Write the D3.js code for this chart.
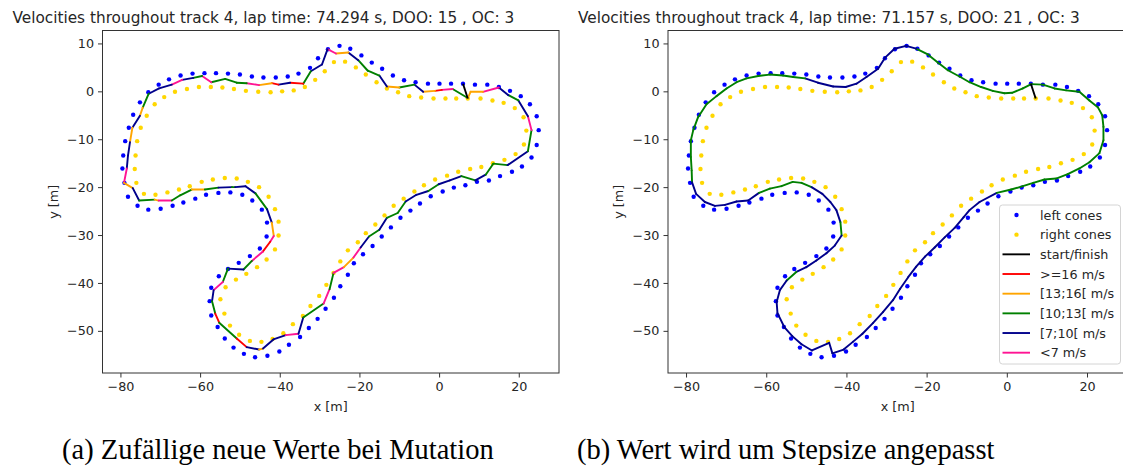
<!DOCTYPE html>
<html>
<head>
<meta charset="utf-8">
<script src="https://cdn.jsdelivr.net/npm/d3@7"></script>
<style>
  body { margin: 0; background: #fff; }
  svg { display: block; }
</style>
</head>
<body>
<svg id="fig" width="1123" height="466"></svg>
<script>
// cone positions of track 4 [x, y] in m
const leftCones = [
  [6.0,1.6],[3.0,1.6],[0.1,1.6],[-2.8,1.6],[-5.9,1.9],[-8.8,2.3],[-11.6,3.3],[-14.3,4.7],
  [-16.9,6.0],[-19.5,7.5],[-22.3,8.9],[-25.0,9.5],[-27.9,8.8],[-30.4,6.9],[-32.4,4.9],
  [-35.3,3.7],[-38.0,3.1],[-41.0,2.9],[-44.1,2.9],[-47.0,3.1],[-50.0,3.5],[-53.0,3.7],
  [-56.0,3.8],[-58.9,3.8],[-61.9,3.7],[-64.9,3.3],[-67.8,2.5],[-70.4,1.4],[-73.0,-0.2],
  [-75.1,-2.3],[-76.8,-4.9],[-77.9,-7.6],[-78.8,-10.4],[-79.3,-13.4],[-79.5,-16.1],
  [-79.0,-19.1],[-78.1,-22.0],[-75.7,-23.9],[-73.0,-24.7],[-69.9,-24.5],[-66.9,-23.9],
  [-64.2,-23.2],[-61.2,-22.4],[-58.5,-21.6],[-55.4,-21.2],[-52.4,-21.1],[-49.4,-21.6],
  [-46.9,-22.8],[-44.5,-24.7],[-43.2,-27.4],[-43.3,-30.3],[-45.0,-32.8],[-47.5,-34.4],
  [-50.3,-35.8],[-53.0,-37.1],[-55.3,-38.6],[-57.2,-41.0],[-57.6,-43.8],[-57.2,-46.8],
  [-55.6,-49.2],[-53.8,-51.6],[-51.6,-53.5],[-49.0,-54.8],[-46.2,-55.5],[-43.1,-55.2],
  [-40.1,-54.3],[-37.7,-52.9],[-34.9,-51.3],[-32.7,-49.4],[-30.5,-47.5],[-28.5,-45.4],
  [-26.4,-43.1],[-24.8,-40.7],[-22.9,-38.3],[-21.4,-35.9],[-19.1,-34.0],[-16.7,-32.3],
  [-14.4,-30.3],[-12.1,-28.4],[-9.7,-26.4],[-7.2,-24.9],[-4.8,-23.4],[-2.1,-21.9],
  [0.9,-20.9],[3.7,-20.1],[6.6,-19.6],[9.5,-18.9],[12.5,-18.6],[15.3,-17.7],[18.3,-16.8],
  [20.8,-15.7],[23.2,-13.8],[24.5,-11.2],[25.0,-8.1],[24.5,-5.2],[22.8,-2.7],[20.5,-1.0],
  [17.8,0.1],[15.0,0.9],[12.1,1.4],[9.0,1.4]
];
const rightCones = [
  [7.2,-1.5],[4.3,-1.5],[1.6,-1.5],[-1.4,-1.5],[-4.5,-1.3],[-7.5,-1.0],[-10.3,-0.2],
  [-13.1,0.6],[-15.7,1.9],[-18.4,3.5],[-20.9,5.0],[-23.6,6.2],[-26.4,6.1],[-28.7,4.2],
  [-31.1,2.4],[-33.7,0.9],[-36.5,0.2],[-39.4,0.0],[-42.3,-0.2],[-45.4,-0.1],[-48.5,0.1],
  [-51.5,0.5],[-54.4,0.8],[-57.3,0.9],[-60.3,0.9],[-63.3,0.5],[-66.3,-0.1],[-69.0,-1.2],
  [-71.4,-2.7],[-73.4,-5.1],[-74.9,-7.6],[-75.8,-10.4],[-76.2,-13.4],[-76.4,-16.2],
  [-76.0,-19.1],[-74.1,-21.4],[-71.2,-21.6],[-68.2,-21.1],[-65.3,-20.5],[-62.6,-19.8],
  [-59.6,-18.9],[-56.8,-18.4],[-53.8,-18.1],[-50.8,-18.2],[-48.0,-18.9],[-45.2,-20.0],
  [-42.8,-22.0],[-41.2,-24.6],[-40.3,-27.2],[-40.3,-30.1],[-41.2,-33.0],[-43.3,-35.1],
  [-45.7,-36.7],[-48.4,-38.1],[-51.0,-39.3],[-53.6,-40.9],[-54.9,-43.4],[-53.9,-46.4],
  [-52.5,-48.9],[-50.2,-50.8],[-47.5,-52.1],[-44.6,-52.3],[-41.8,-51.7],[-39.1,-50.5],
  [-36.7,-48.6],[-34.2,-46.9],[-32.3,-44.8],[-30.1,-42.7],[-28.3,-40.4],[-26.5,-37.9],
  [-24.8,-35.5],[-22.9,-33.2],[-20.4,-31.5],[-18.4,-29.6],[-16.0,-27.8],[-13.7,-25.9],
  [-11.4,-23.9],[-8.9,-22.4],[-6.2,-20.9],[-3.8,-19.6],[-1.0,-18.4],[2.0,-17.6],[4.8,-16.8],
  [7.8,-16.2],[10.6,-15.8],[13.5,-15.0],[16.4,-14.3],[19.2,-13.1],[21.3,-11.1],[21.9,-8.2],
  [21.2,-5.4],[19.0,-3.5],[16.2,-2.4],[13.4,-1.9],[10.4,-1.5]
];
const startFinish = [[6.0,1.6],[7.2,-1.5]];

// driven line, run (a)
const lineA = [
  [7.2,-1.4],[3.4,0.5],[0.7,0.3],[-1.0,0.1],[-4.0,-0.1],[-6.2,1.4],[-10.0,0.8],[-13.1,1.0],
  [-15.0,3.3],[-17.9,4.3],[-20.3,6.5],[-22.8,8.1],[-25.9,7.9],[-28.0,8.8],[-29.4,5.6],
  [-32.2,4.2],[-34.1,1.6],[-37.4,1.8],[-40.3,1.4],[-42.0,1.7],[-45.2,1.3],[-48.3,1.7],
  [-50.8,1.8],[-53.7,2.6],[-57.2,1.9],[-59.5,3.2],[-61.7,2.8],[-64.5,2.4],[-67.1,1.4],
  [-70.3,0.6],[-72.9,-0.5],[-74.4,-3.4],[-75.1,-5.1],[-77.0,-7.6],[-77.6,-10.6],
  [-78.1,-13.4],[-78.4,-16.1],[-79.1,-19.1],[-76.9,-20.2],[-75.3,-22.8],[-71.4,-22.6],
  [-70.4,-22.8],[-67.1,-22.8],[-65.0,-21.7],[-62.1,-20.5],[-58.8,-20.5],[-55.4,-20.1],
  [-52.0,-20.0],[-51.2,-20.0],[-48.6,-19.8],[-46.1,-21.3],[-43.2,-24.6],[-42.0,-27.4],
  [-41.5,-30.2],[-42.4,-31.4],[-44.3,-33.5],[-47.0,-35.4],[-49.1,-37.2],[-53.0,-37.0],
  [-54.3,-39.8],[-56.6,-41.5],[-57.0,-43.8],[-56.2,-46.4],[-55.2,-48.3],[-50.8,-51.6],
  [-48.3,-53.4],[-45.2,-53.9],[-44.2,-53.7],[-41.6,-51.8],[-38.5,-50.9],[-35.3,-50.6],
  [-34.1,-47.2],[-29.0,-44.3],[-27.5,-41.3],[-26.5,-37.9],[-23.9,-36.7],[-21.5,-34.7],
  [-19.7,-32.6],[-17.6,-30.3],[-15.0,-28.9],[-13.1,-26.4],[-10.4,-25.4],[-8.4,-23.0],
  [-5.7,-21.6],[-2.7,-20.8],[-0.1,-19.4],[2.7,-18.6],[5.6,-17.7],[9.1,-18.6],[11.7,-17.4],
  [13.6,-15.1],[17.2,-15.4],[22.3,-12.5],[23.2,-8.1],[22.3,-5.2],[19.9,-1.9],[17.4,-0.8],
  [15.0,0.8],[11.0,-0.1],[7.9,-0.1],[7.2,-1.4]
];
// speed on each segment of lineA, m/s
const speedA = [
  11.6,6.3,16.4,14.2,8.8,11.4,14.5,8.6,11.9,11.2,8.9,14.1,6.2,9.1,8.4,11.7,16.6,8.7,16.2,14.4,
  6.5,11.3,11.8,11.5,6.1,11.9,8.9,6.4,9.2,8.5,11.6,14.0,8.8,14.6,9.3,8.7,6.2,13.8,8.6,11.4,
  14.3,6.0,11.8,11.2,14.7,11.5,9.0,11.3,8.8,8.5,11.7,9.1,14.2,6.6,16.8,6.3,11.4,8.9,11.6,6.1,
  8.7,11.9,16.3,11.5,16.5,8.6,14.1,8.9,9.2,6.4,8.8,11.6,6.2,11.3,6.5,14.4,6.0,8.7,11.8,9.0,
  11.4,11.7,8.6,8.9,11.5,8.8,9.1,11.6,8.7,11.2,11.9,8.5,11.4,6.3,8.9,11.7,9.0,6.4,14.3,14.6
];

// driven line, run (b)
const lineB = [
  [6.1,1.5],[4.0,0.6],[1.3,-0.3],[-0.6,-0.4],[-3.5,0.1],[-6.4,0.9],[-9.3,1.9],[-11.8,3.1],
  [-14.7,4.4],[-17.2,6.0],[-19.7,7.7],[-22.6,8.9],[-25.1,9.5],[-28.0,8.9],[-30.3,7.1],
  [-32.1,4.7],[-35.0,3.0],[-37.5,1.6],[-40.2,0.9],[-43.3,1.0],[-47.1,1.8],[-50.3,2.7],
  [-53.3,3.0],[-55.8,3.3],[-59.1,3.5],[-62.0,3.2],[-64.9,2.7],[-67.4,1.9],[-69.9,0.6],
  [-72.4,-1.0],[-74.9,-2.7],[-77.0,-5.4],[-78.2,-8.1],[-78.8,-10.2],[-78.8,-13.7],
  [-78.6,-16.5],[-78.5,-19.0],[-77.5,-21.4],[-75.3,-23.1],[-72.8,-23.9],[-70.3,-23.7],
  [-67.4,-23.0],[-64.5,-22.8],[-61.8,-21.2],[-59.1,-20.3],[-56.2,-19.8],[-53.4,-18.9],
  [-51.2,-19.1],[-48.7,-20.0],[-46.0,-21.4],[-44.0,-23.1],[-42.5,-24.8],[-41.5,-27.3],
  [-41.2,-30.1],[-42.9,-32.2],[-45.0,-33.8],[-47.5,-35.3],[-50.0,-36.7],[-52.5,-37.7],
  [-54.9,-39.5],[-56.6,-41.5],[-57.4,-44.0],[-57.2,-46.3],[-55.5,-49.2],[-53.5,-51.1],
  [-51.2,-52.8],[-48.6,-54.1],[-44.3,-52.5],[-43.5,-54.7],[-40.7,-53.9],[-38.4,-52.3],
  [-36.0,-50.6],[-33.4,-48.4],[-30.9,-46.1],[-28.4,-43.6],[-26.6,-41.2],[-24.6,-38.8],
  [-22.6,-36.6],[-20.4,-34.5],[-18.0,-32.6],[-15.5,-30.5],[-13.0,-28.5],[-10.8,-26.3],
  [-9.3,-24.8],[-6.8,-23.1],[-2.5,-21.2],[1.1,-20.5],[4.0,-19.8],[6.6,-19.1],[9.4,-18.4],
  [12.3,-18.2],[15.2,-17.3],[18.1,-16.1],[20.6,-14.8],[23.1,-12.9],[24.1,-10.2],[24.1,-7.4],
  [23.8,-5.0],[22.7,-3.3],[20.6,-1.9],[18.1,-0.1],[14.8,0.2],[11.9,0.6],[9.0,1.4],[6.1,1.5]
];
const speedB = [
  11.4,11.8,12.1,11.6,11.2,10.9,11.3,11.7,11.5,11.1,10.6,9.8,9.4,9.1,9.3,9.6,9.2,8.9,9.0,9.5,
  9.8,10.3,10.8,11.2,11.5,11.7,11.4,11.0,10.7,10.5,10.4,10.3,10.2,10.3,10.4,10.2,9.6,9.1,8.8,
  8.7,9.0,9.4,9.8,10.2,10.6,10.9,10.7,10.2,9.7,9.2,8.8,8.9,10.1,9.5,9.3,9.6,9.8,9.9,10.1,9.7,
  9.2,8.8,8.6,8.4,8.3,8.1,8.0,7.8,8.2,8.5,8.7,8.9,9.1,9.2,9.3,9.4,9.5,9.6,9.6,9.7,9.8,9.8,
  9.9,9.9,9.9,10.2,10.5,10.8,11.1,11.4,11.7,11.9,12.0,11.8,11.5,11.3,11.2,11.4,11.6,11.8,
  11.9,11.7,11.5,11.3
];

const titles = [
  "Velocities throughout track 4, lap time: 74.294 s, DOO: 15 , OC: 3",
  "Velocities throughout track 4, lap time: 71.157 s, DOO: 21 , OC: 3"
];
const captions = ["(a) Zufällige neue Werte bei Mutation", "(b) Wert wird um Stepsize angepasst"];
const xTicks = [-80, -60, -40, -20, 0, 20];
const yTicks = [-50, -40, -30, -20, -10, 0, 10];
const speedBins = [
  { min: 16, label: ">=16 m/s", color: "#ff0000" },
  { min: 13, label: "[13;16[ m/s", color: "#ffa500" },
  { min: 10, label: "[10;13[ m/s", color: "#008000" },
  { min: 7, label: "[7;10[ m/s", color: "#00008b" },
  { min: -Infinity, label: "<7 m/s", color: "#ff1493" }
];

const binColor = v => speedBins.find(b => v >= b.min).color;

const svg = d3.select('#fig');
const font = "'DejaVu Sans', sans-serif";

const y = d3.scaleLinear().domain([-58.8, 12.7]).range([373, 30.5]);

const panels = [
  { x0: 102.5, x1: 559, line: lineA, speed: speedA, titleX: 12.5, capX: 62, legend: false },
  { x0: 668, x1: 1127.5, line: lineB, speed: speedB, titleX: 578, capX: 577, legend: true }
];

panels.forEach((p, i) => {
  const x = d3.scaleLinear().domain([-84.5, 30.1]).range([p.x0, p.x1]);
  const g = svg.append('g');

  // cones
  g.selectAll('circle.lc').data(leftCones).enter().append('circle')
    .attr('cx', d => x(d[0])).attr('cy', d => y(d[1])).attr('r', 2.2)
    .attr('fill', '#0000ff');
  g.selectAll('circle.rc').data(rightCones).enter().append('circle')
    .attr('cx', d => x(d[0])).attr('cy', d => y(d[1])).attr('r', 2.2)
    .attr('fill', '#ffd700');

  // driven line, one segment per speed value
  const segs = p.speed.map((v, k) => ({ a: p.line[k], b: p.line[k + 1], v: v }));
  g.selectAll('line.seg').data(segs).enter().append('line')
    .attr('x1', d => x(d.a[0])).attr('y1', d => y(d.a[1]))
    .attr('x2', d => x(d.b[0])).attr('y2', d => y(d.b[1]))
    .attr('stroke', d => binColor(d.v))
    .attr('stroke-width', 1.9)
    .attr('stroke-linecap', 'round');

  // start / finish
  g.append('line')
    .attr('x1', x(startFinish[0][0])).attr('y1', y(startFinish[0][1]))
    .attr('x2', x(startFinish[1][0])).attr('y2', y(startFinish[1][1]))
    .attr('stroke', '#000').attr('stroke-width', 1.9);

  // axes
  const ax = g.append('g').attr('transform', 'translate(0,373)')
    .call(d3.axisBottom(x).tickValues(xTicks).tickSize(4.5).tickPadding(4).tickSizeOuter(0));
  const ay = g.append('g').attr('transform', `translate(${p.x0},0)`)
    .call(d3.axisLeft(y).tickValues(yTicks).tickSize(4.5).tickPadding(4).tickSizeOuter(0));
  [ax, ay].forEach(a => {
    a.select('.domain').remove();
    a.selectAll('text').attr('font-family', font).attr('font-size', 12.75).attr('fill', '#262626');
    a.selectAll('line').attr('stroke', '#333');
  });

  g.append('rect')
    .attr('x', p.x0).attr('y', 30.5)
    .attr('width', p.x1 - p.x0).attr('height', 373 - 30.5)
    .attr('fill', 'none').attr('stroke', '#333').attr('stroke-width', 1);

  g.append('text').attr('x', (p.x0 + p.x1) / 2).attr('y', 411)
    .attr('text-anchor', 'middle').attr('font-family', font).attr('font-size', 12.75)
    .attr('fill', '#262626').text('x [m]');
  g.append('text')
    .attr('transform', `translate(${p.x0 - 45},${(30.5 + 373) / 2}) rotate(-90)`)
    .attr('text-anchor', 'middle').attr('font-family', font).attr('font-size', 12.75)
    .attr('fill', '#262626').text('y [m]');

  g.append('text').attr('x', p.titleX).attr('y', 23.3)
    .attr('font-family', font).attr('font-size', 15.3).attr('fill', '#262626')
    .text(titles[i]);

  g.append('text').attr('x', p.capX).attr('y', 459)
    .attr('font-family', "'Liberation Serif', serif").attr('font-size', 28.5)
    .attr('fill', '#000').text(captions[i]);

  if (p.legend) {
    const lg = g.append('g');
    lg.append('rect').attr('x', 999.5).attr('y', 205).attr('width', 121).attr('height', 159)
      .attr('rx', 3).attr('fill', '#fff').attr('fill-opacity', 0.8)
      .attr('stroke', '#d4d4d4').attr('stroke-width', 1);
    const items = [
      { label: 'left cones', type: 'dot', color: '#0000ff' },
      { label: 'right cones', type: 'dot', color: '#ffd700' },
      { label: 'start/finish', type: 'line', color: '#000' }
    ].concat(speedBins.map(b => ({ label: b.label, type: 'line', color: b.color })));
    items.forEach((it, k) => {
      const cy = 215 + k * 19.67;
      if (it.type === 'dot') {
        lg.append('circle').attr('cx', 1016.5).attr('cy', cy).attr('r', 2.2).attr('fill', it.color);
      } else {
        lg.append('line').attr('x1', 1002.5).attr('x2', 1030).attr('y1', cy).attr('y2', cy)
          .attr('stroke', it.color).attr('stroke-width', 1.9);
      }
      lg.append('text').attr('x', 1040).attr('y', cy + 4.5)
        .attr('font-family', font).attr('font-size', 12.75).attr('fill', '#262626')
        .text(it.label);
    });
  }
});
</script>
</body>
</html>
